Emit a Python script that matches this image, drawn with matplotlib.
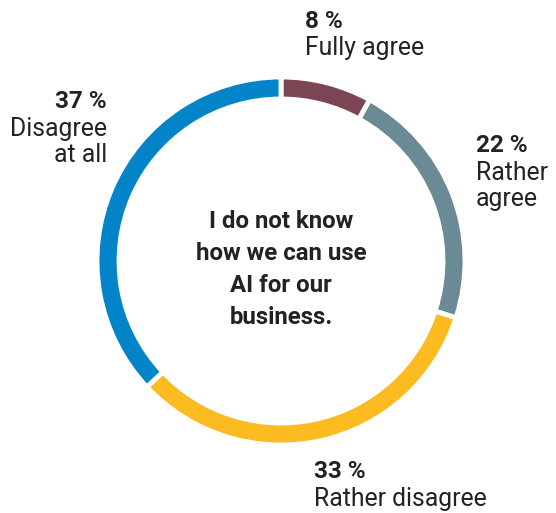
import matplotlib.pyplot as plt

labels = ['Fully agree', 'Rather\nagree', 'Rather disagree', 'Disagree\nat all']
shares = [8, 22, 33, 37]
colors = ['#7b4553', '#6a8a96', '#fbbb21', '#0383c8']
center_text = 'I do not know\nhow we can use\nAI for our\nbusiness.'

W, H = 556, 513
plt.rcParams['font.family'] = ['Roboto', 'DejaVu Sans']
TXT = '#222222'

fig = plt.figure(figsize=(W / 100, H / 100), dpi=100)
ax = fig.add_axes([0, 0, 1, 1])

cx, cy = 281, H - 261
ax.pie(shares, colors=colors, startangle=90, counterclock=False,
       center=(cx, cy), radius=184, frame=True,
       wedgeprops=dict(width=22, edgecolor='white', linewidth=3.5))
ax.set_xlim(0, W)
ax.set_ylim(0, H)
ax.axis('off')

ax.text(cx, cy - 8, center_text, ha='center', va='center', fontsize=17.3,
        fontweight='bold', color=TXT, linespacing=1.5)

# (x, y of value line, alignment)
spots = [(305, 21, 'left'), (476, 146, 'left'), (314, 472, 'left'), (107, 102, 'right')]
for (x, y, ha), lab, s in zip(spots, labels, shares):
    ax.text(x, H - y, f'{s} %', ha=ha, va='center', fontsize=17.5,
            fontweight='bold', color=TXT)
    ax.text(x, H - y - 15, lab, ha=ha, va='top', fontsize=17.8,
            color=TXT, linespacing=1.12)

fig.savefig('out.png', dpi=100)
